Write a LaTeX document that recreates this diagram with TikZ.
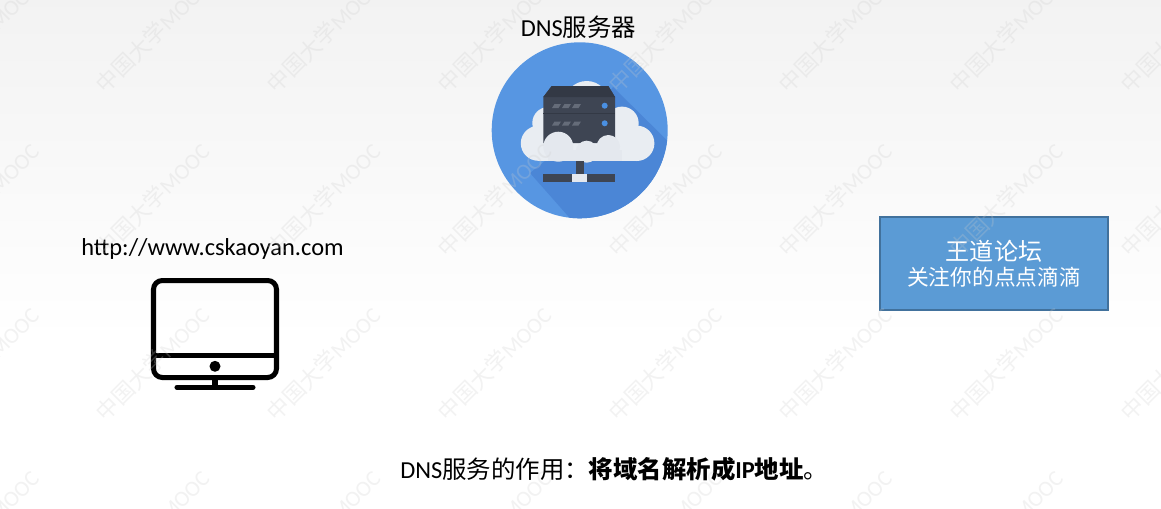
\documentclass[tikz,border=0pt]{standalone}
\usepackage{fontspec}
\setmainfont{Carlito}
\newfontfamily\cjk{Noto Sans CJK SC}
\definecolor{discblue}{HTML}{5796E2}
\definecolor{discshade}{HTML}{4B86D6}
\definecolor{cloudgray}{HTML}{E9EDF2}
\definecolor{cloudfront}{HTML}{E4E8EE}
\definecolor{rackdark}{HTML}{3E4553}
\definecolor{racktop}{HTML}{333945}
\definecolor{rackvent}{HTML}{656C79}
\definecolor{ledblue}{HTML}{4A90E2}
\definecolor{boxblue}{HTML}{5B9BD5}
\definecolor{boxedge}{HTML}{41719C}
\begin{document}
\begin{tikzpicture}[x=0.02cm, y=-0.02cm,
    caption/.style ={inner sep=0pt, font=\fontsize{13.9}{16}\selectfont},
    screen/.style ={draw=black, line width=2.85pt},
    forum/.style ={rectangle, draw=boxedge, fill=boxblue, line width=0.7pt, text=white,
      minimum width=4.56cm, minimum height=1.86cm, align=center, inner sep=0pt},
    mark text/.style ={rotate=45, inner sep=0pt, text=black!20, text opacity=0.25,
      font=\fontsize{12.6}{14}\selectfont}]
   \useasboundingbox (0,0) rectangle (1161,508);
   % background
   \fill[white] (0,0) rectangle (1161,508);
   \shade[top color=black!5, bottom color=white] (0,0) rectangle (1161,340);

   % server disc
   \fill[discblue] (579.7,130.3) circle (88);
   \begin{scope}
     \clip (579.7,130.3) circle (88);
     \fill[discshade] (613,87) -- (687,160) -- (687,233) -- (583,233) -- (530,173) -- (580,133) -- cycle;
   \end{scope}
   \fill[cloudgray] (538.3,143.3) circle (17.5);
   \fill[cloudgray] (548.3,123) circle (16);
   \fill[cloudgray] (586.7,103.3) circle (22.3);
   \fill[cloudgray] (622,123.3) circle (16.7);
   \fill[cloudgray] (636.7,143.3) circle (17.7);
   \fill[cloudgray] (538.3,133) rectangle (636.7,161);
   \fill[cloudgray] (548,110) rectangle (622,161);
   \fill[rackdark] (551.7,86) -- (608.3,86) -- (615,97) -- (615,143) -- (543.3,143) -- (543.3,97) -- cycle;
   \fill[racktop] (551.7,86) -- (608.3,86) -- (615,97) -- (543.3,97) -- cycle;
   \draw[racktop, line width=0.6pt] (543.3,113.5) -- (615,113.5);
   \foreach \ventx in {552,562,572}
     \foreach \venty in {106,123.5}
       \fill[rackvent] (\ventx,\venty+2) -- (\ventx+6.5,\venty+2) -- (\ventx+9,\venty-2) -- (\ventx+2.5,\venty-2) -- cycle;
   \fill[ledblue] (604.7,105.7) circle (3);
   \fill[ledblue] (604.7,123.3) circle (3);
   \fill[cloudfront] (558.3,146.7) circle (15);
   \fill[cloudfront] (586.7,151.7) circle (11);
   \fill[cloudfront] (608.3,146.7) circle (11.7);
   \fill[cloudfront] (548,150) rectangle (622,161);
   \fill[rackdark] (576,161) rectangle (584,174);
   \fill[rackdark] (543.3,174) rectangle (615,182.3);
   \fill[cloudfront] (571.7,174) rectangle (587.3,182.3);

   % monitor
   \draw[screen, rounded corners=5pt] (153.5,280.5) rectangle (276.5,377.5);
   \draw[screen] (153.5,355.7) -- (276.5,355.7);
   \fill[black] (215,366.3) circle (5.5);
   \draw[screen] (215,377.5) -- (215,387.3);
   \draw[screen, line cap=round] (177,387.3) -- (253,387.3);

   % labels
   \node[caption] (server) at (578.5,27) {DNS{\cjk 服务器}};
   \node[caption] (url) at (212.5,249) {http://www.cskaoyan.com};
   \node[forum] (site) at (994,263.5) {{\cjk\fontsize{13.7}{14.8}\selectfont 王道论坛}\\[2pt]{\cjk\fontsize{12.35}{14.8}\selectfont 关注你的点点滴滴}};
   \node[caption, anchor=west] (role) at (400,469) {DNS{\cjk 服务的作用：\bfseries 将域名解析成}\textbf{IP}{\cjk\bfseries 地址}{\cjk 。}};

   % watermark
   \begin{scope}
     \clip (0,0) rectangle (1161,508);
     \foreach \markx [count=\i] in {-18,152.5,323.5,494.5,665,835,1006,1177}
       \foreach \marky [count=\j] in {36,200,364,527}
         \node[mark text] (mark\i\j) at (\markx,\marky) {{\cjk 中国大学}MOOC};
   \end{scope}
 \end{tikzpicture}
\end{document}
